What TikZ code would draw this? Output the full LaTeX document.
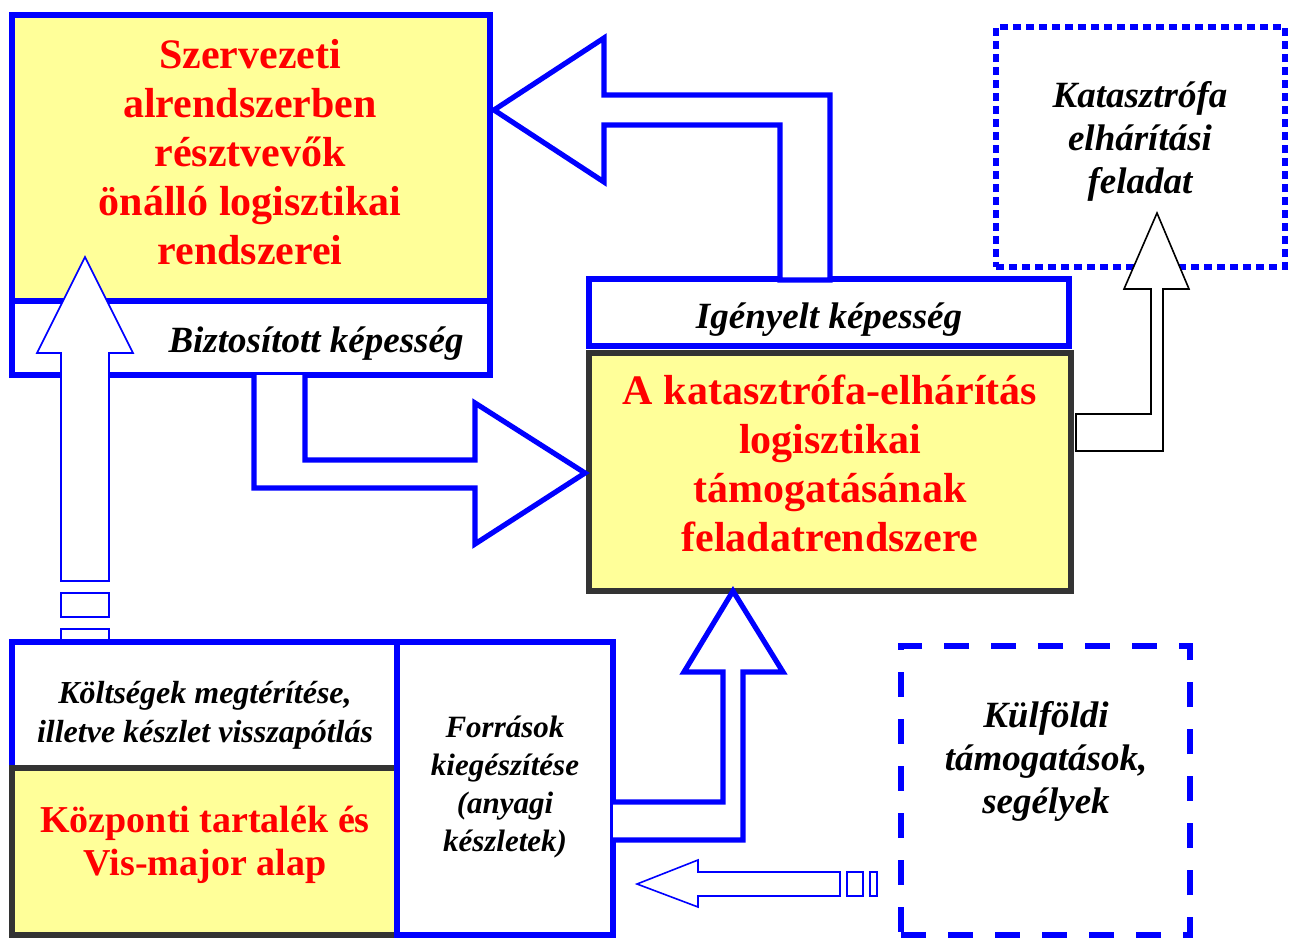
\documentclass[tikz,border=0pt]{standalone}
\usepackage{fontspec}
\setmainfont{Liberation Serif}
\usepackage{xcolor}
\usetikzlibrary{positioning,calc}
\definecolor{pptblue}{RGB}{0,0,255}
\definecolor{pptyellow}{RGB}{255,255,153}
\definecolor{pptred}{RGB}{255,0,0}
\definecolor{pptgray}{RGB}{51,51,51}

\begin{document}
\begin{tikzpicture}[x=0.5pt,y=-0.5pt,
    bluebox/.style={draw=pptblue, line width=3pt, fill=white, rectangle, anchor=north west, inner sep=0pt, outer sep=0pt},
    yellowbox/.style={draw=pptgray, line width=3pt, fill=pptyellow, rectangle, anchor=north west, inner sep=0pt, outer sep=0pt},
    linebox/.style={draw=pptblue, rectangle, anchor=north west, inner sep=0pt, outer sep=0pt},
    blockarrow/.style={draw=pptblue, line width=2.6pt, fill=white, line join=miter},
    thinarrow/.style={draw=pptblue, line width=0.8pt, fill=white},
    redtxt/.style={text=pptred, font=\fontsize{21}{24.5}\selectfont\bfseries, align=center},
    blacktxt/.style={text=black, font=\fontsize{18.5}{21.5}\selectfont\bfseries\itshape, align=center}
]
    \useasboundingbox (0,0) rectangle (1296,938);

    % Top left: subsystems
    \node[yellowbox, draw=pptblue, minimum width=239pt, minimum height=143pt] (szerv) at (12,15) {};
    \node[bluebox, minimum width=239pt, minimum height=37pt] (bizt) at (12,301) {};

    % Main task system
    \node[bluebox, minimum width=240pt, minimum height=33.5pt] (igeny) at (589,279) {};
    \node[yellowbox, minimum width=241pt, minimum height=119pt] (fel) at (589,353) {};

    % Bottom left: reserves
    \node[bluebox, minimum width=192.5pt, minimum height=63pt] (koltseg) at (12,642) {};
    \node[yellowbox, minimum width=192.5pt, minimum height=83.5pt] (kozp) at (12,768) {};
    \node[bluebox, minimum width=108pt, minimum height=146.5pt] (forras) at (397,642) {};

    % Dotted and dashed boxes
    \node[linebox, line width=2.8pt, dash pattern=on 4pt off 2.5pt,
          minimum width=144.5pt, minimum height=120pt] (kat) at (996,27) {};
    \node[linebox, line width=3pt, dash pattern=on 12.5pt off 11pt,
          minimum width=144.5pt, minimum height=144.5pt] (kulf) at (901,646) {};

    % Block arrows
    \draw[blockarrow] (494,110) -- (604,38) -- (604,95) -- (830,95) -- (830,280) -- (780,280)
        -- (780,125) -- (604,125) -- (604,182) -- cycle;
    \draw[blockarrow] (254,375) -- (254,488) -- (475,488) -- (475,544) -- (585,473) -- (475,403)
        -- (475,460) -- (305,460) -- (305,375);
    \draw[blockarrow] (613,802) -- (723,802) -- (723,672) -- (684,672) -- (733,591) -- (783,672)
        -- (743,672) -- (743,840) -- (613,840);

    % Thin arrows
    \draw[thinarrow] (85,257) -- (133,353) -- (109,353) -- (109,581) -- (61,581) -- (61,353)
        -- (37,353) -- cycle;
    \draw[thinarrow] (61,593) rectangle (109,617);
    \draw[thinarrow] (61,629) rectangle (109,640);
    \draw[thinarrow, draw=black] (1076,414) -- (1151,414) -- (1151,289) -- (1124,289) -- (1157,213)
        -- (1189,289) -- (1163,289) -- (1163,451) -- (1076,451) -- cycle;
    \draw[thinarrow] (637,884) -- (698,860) -- (698,872) -- (840,872) -- (840,896) -- (698,896)
        -- (698,907) -- cycle;
    \draw[thinarrow] (847,872) rectangle (863,896);
    \draw[thinarrow] (870,872) rectangle (877,896);

    % Texts
    \node[redtxt] (szervtxt) at (250,152) {Szervezeti\\alrendszerben\\résztvevők\\önálló logisztikai\\rendszerei};
    \node[blacktxt, anchor=base] (bizttxt) at (316,352) {Biztosított képesség};
    \node[blacktxt, anchor=base] (igenytxt) at (829,328) {Igényelt képesség};
    \node[redtxt] (feltxt) at (830,463) {A katasztrófa-elhárítás\\logisztikai\\támogatásának\\feladatrendszere};
    \node[blacktxt] (kattxt) at (1140,141) {Katasztrófa\\elhárítási\\feladat};
    \node[blacktxt] (kulftxt) at (1046,761) {Külföldi\\támogatások,\\segélyek};
    \node[blacktxt, font=\fontsize{16}{19.5}\selectfont\bfseries\itshape] (koltsegtxt) at (205,715)
        {Költségek megtérítése,\\illetve készlet visszapótlás};
    \node[blacktxt, font=\fontsize{15.5}{19}\selectfont\bfseries\itshape] (forrastxt) at (505,787)
        {Források\\kiegészítése\\(anyagi\\készletek)};
    \node[redtxt, font=\fontsize{19}{21.5}\selectfont\bfseries] (kozptxt) at (205,845)
        {Központi tartalék és\\Vis-major alap};

\end{tikzpicture}
\end{document}
